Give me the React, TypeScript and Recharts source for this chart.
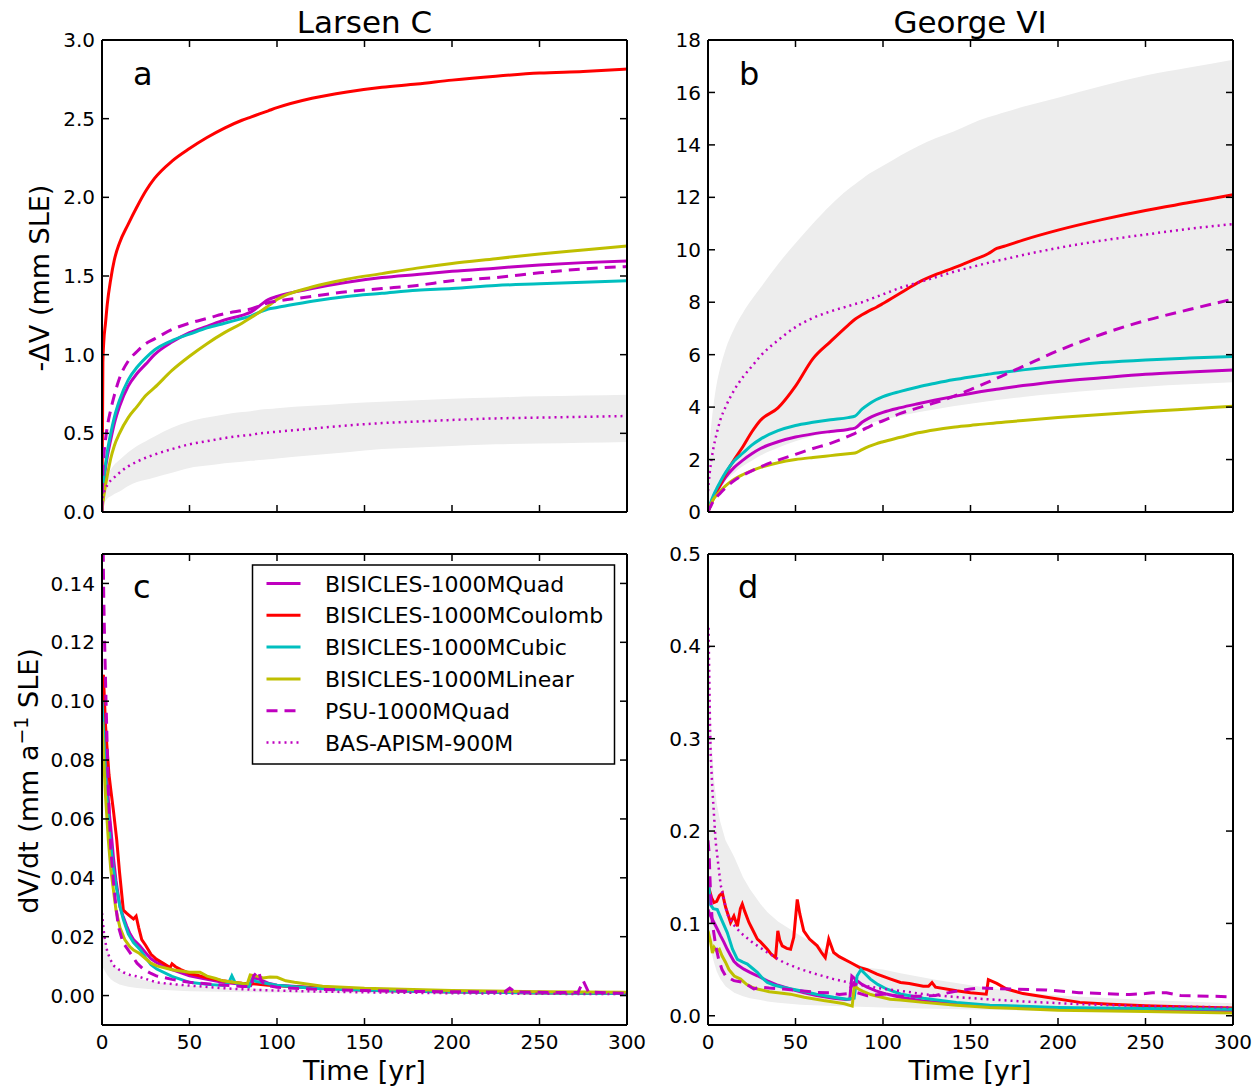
import React from 'react';
import { ComposedChart, Line, Area, XAxis, YAxis } from 'recharts';

// series names, in legend order
const seriesNames = [
  'BISICLES-1000MQuad',
  'BISICLES-1000MCoulomb',
  'BISICLES-1000MCubic',
  'BISICLES-1000MLinear',
  'PSU-1000MQuad',
  'BAS-APISM-900M',
];
const xTicks = [0, 50, 100, 150, 200, 250, 300];

// ---- panel a: Larsen C, -dV (mm SLE)
const tA = [0, 0.5, 1, 2, 3, 5, 7, 10, 15, 20, 25, 30, 40, 50, 60, 70, 80, 85, 90, 95, 100, 120, 140, 160, 180, 200, 225, 250, 275, 300];
const aQuad = [0, 0.1, 0.17, 0.28, 0.35, 0.46, 0.56, 0.67, 0.8, 0.88, 0.94, 1.0, 1.08, 1.14, 1.18, 1.22, 1.25, 1.27, 1.31, 1.35, 1.37, 1.42, 1.46, 1.49, 1.51, 1.53, 1.55, 1.57, 1.585, 1.595];
const aCoulomb = [0, 0.95, 1.08, 1.2, 1.32, 1.48, 1.6, 1.71, 1.83, 1.94, 2.04, 2.12, 2.23, 2.31, 2.38, 2.44, 2.49, 2.51, 2.53, 2.55, 2.57, 2.63, 2.67, 2.7, 2.72, 2.745, 2.77, 2.79, 2.8, 2.815];
const aCubic = [0, 0.12, 0.2, 0.3, 0.38, 0.5, 0.6, 0.71, 0.84, 0.92, 0.98, 1.03, 1.09, 1.13, 1.17, 1.2, 1.23, 1.245, 1.27, 1.29, 1.3, 1.34, 1.37, 1.39, 1.41, 1.42, 1.44, 1.45, 1.46, 1.47];
const aLinear = [0, 0.06, 0.1, 0.17, 0.23, 0.34, 0.42, 0.5, 0.6, 0.67, 0.74, 0.79, 0.9, 0.99, 1.07, 1.14, 1.2, 1.235, 1.27, 1.31, 1.35, 1.43, 1.48, 1.515, 1.55, 1.58, 1.61, 1.64, 1.665, 1.69];
const aPSU = [0, 0.25, 0.35, 0.46, 0.54, 0.65, 0.74, 0.85, 0.96, 1.02, 1.07, 1.1, 1.16, 1.2, 1.23, 1.26, 1.28, 1.29, 1.31, 1.33, 1.34, 1.37, 1.4, 1.42, 1.44, 1.47, 1.49, 1.52, 1.545, 1.56];
const aBAS = [0.05, 0.1, 0.12, 0.15, 0.17, 0.2, 0.22, 0.25, 0.29, 0.32, 0.345, 0.365, 0.4, 0.43, 0.45, 0.47, 0.485, 0.49, 0.5, 0.505, 0.51, 0.53, 0.55, 0.565, 0.575, 0.585, 0.595, 0.6, 0.605, 0.61];
const aBandLo = [0, 0.03, 0.05, 0.07, 0.085, 0.1, 0.115, 0.13, 0.165, 0.19, 0.205, 0.22, 0.25, 0.28, 0.295, 0.31, 0.32, 0.325, 0.33, 0.335, 0.34, 0.36, 0.38, 0.4, 0.41, 0.42, 0.43, 0.435, 0.44, 0.445];
const aBandHi = [0.05, 0.12, 0.16, 0.2, 0.23, 0.27, 0.3, 0.33, 0.38, 0.42, 0.45, 0.48, 0.535, 0.575, 0.6, 0.62, 0.635, 0.64, 0.65, 0.655, 0.66, 0.675, 0.69, 0.7, 0.71, 0.72, 0.728, 0.735, 0.74, 0.745];

// ---- panel b: George VI, -dV (mm SLE)
const tB = [0, 1, 2, 3, 5, 7, 10, 15, 20, 25, 30, 40, 50, 60, 70, 80, 84, 88, 92, 96, 100, 110, 120, 130, 140, 150, 160, 165, 170, 180, 200, 225, 250, 275, 300];
const bQuad = [0, 0.2, 0.38, 0.53, 0.78, 1.0, 1.32, 1.7, 1.98, 2.22, 2.42, 2.68, 2.86, 2.98, 3.07, 3.15, 3.2, 3.42, 3.58, 3.7, 3.8, 3.98, 4.13, 4.27, 4.4, 4.52, 4.63, 4.68, 4.73, 4.82, 4.98, 5.12, 5.25, 5.34, 5.42];
const bCoulomb = [0, 0.18, 0.35, 0.5, 0.8, 1.05, 1.45, 2.0, 2.5, 3.05, 3.5, 3.97, 4.8, 5.85, 6.5, 7.12, 7.35, 7.52, 7.67, 7.8, 7.95, 8.35, 8.75, 9.05, 9.3, 9.57, 9.85, 10.05, 10.15, 10.37, 10.75, 11.15, 11.5, 11.8, 12.1];
const bCubic = [0, 0.25, 0.45, 0.62, 0.9, 1.15, 1.5, 1.95, 2.25, 2.55, 2.78, 3.1, 3.3, 3.42, 3.52, 3.6, 3.66, 3.92, 4.12, 4.28, 4.4, 4.6, 4.77, 4.91, 5.04, 5.15, 5.25, 5.3, 5.34, 5.42, 5.56, 5.7, 5.8, 5.87, 5.93];
const bLinear = [0, 0.2, 0.35, 0.48, 0.65, 0.8, 1.0, 1.25, 1.43, 1.58, 1.7, 1.88, 2.0, 2.08, 2.15, 2.22, 2.25, 2.38, 2.5, 2.6, 2.68, 2.85, 3.02, 3.14, 3.23, 3.3, 3.37, 3.4, 3.43, 3.49, 3.6, 3.72, 3.83, 3.93, 4.03];
const bPSU = [0, 0.15, 0.28, 0.4, 0.58, 0.72, 0.92, 1.2, 1.4, 1.57, 1.72, 1.98, 2.2, 2.42, 2.62, 2.88, 3.0, 3.12, 3.25, 3.38, 3.48, 3.76, 3.97, 4.17, 4.4, 4.67, 4.95, 5.1, 5.25, 5.55, 6.15, 6.78, 7.3, 7.72, 8.12];
const bBAS = [0.8, 1.5, 2.0, 2.4, 3.0, 3.5, 4.0, 4.65, 5.15, 5.55, 5.95, 6.55, 7.05, 7.4, 7.65, 7.85, 7.93, 8.0, 8.1, 8.2, 8.3, 8.55, 8.75, 8.95, 9.15, 9.33, 9.5, 9.58, 9.65, 9.8, 10.07, 10.35, 10.58, 10.8, 10.98];
const bBandLo = [0, 0.3, 0.5, 0.65, 0.85, 1.0, 1.2, 1.5, 1.75, 1.95, 2.15, 2.45, 2.7, 2.9, 3.05, 3.2, 3.25, 3.3, 3.37, 3.45, 3.52, 3.66, 3.8, 3.92, 4.03, 4.13, 4.22, 4.27, 4.31, 4.39, 4.52, 4.66, 4.78, 4.87, 4.95];
const bBandHi = [1.0, 2.6, 3.4, 4.0, 4.9, 5.5, 6.2, 7.0, 7.6, 8.1, 8.55, 9.45, 10.25, 11.0, 11.7, 12.3, 12.5, 12.7, 12.9, 13.05, 13.2, 13.6, 13.95, 14.25, 14.5, 14.8, 15.05, 15.15, 15.25, 15.45, 15.8, 16.25, 16.65, 16.95, 17.25];

// ---- panel c: Larsen C, dV/dt  ([t, value])
const cQuad = [[0, 0.1], [1, 0.092], [2, 0.082], [2.7, 0.075], [4, 0.063], [5, 0.057], [6.5, 0.047], [8, 0.039], [10.3, 0.03], [12, 0.027], [14.1, 0.0236], [16, 0.021], [18, 0.019], [21.7, 0.0168], [25, 0.0145], [28, 0.0125], [31.3, 0.0112], [40, 0.0088], [50, 0.0067], [60, 0.0055], [69, 0.0045], [80, 0.0038], [85, 0.0034], [87, 0.006], [90, 0.0055], [95, 0.0042], [100, 0.0035], [120, 0.0027], [150, 0.0021], [200, 0.0015], [250, 0.0011], [300, 0.0009]];
const cCoulomb = [[0, 0.105], [0.8, 0.109], [2, 0.092], [3, 0.083], [4, 0.075], [5, 0.07], [6.5, 0.063], [8.4, 0.053], [10, 0.042], [12.2, 0.029], [14, 0.028], [16, 0.027], [18, 0.026], [19.5, 0.027], [21, 0.023], [22.7, 0.019], [25, 0.017], [28, 0.014], [31, 0.0124], [35, 0.011], [38.9, 0.0095], [40, 0.0108], [42, 0.0098], [45, 0.0088], [50, 0.0075], [55, 0.0068], [60, 0.006], [69, 0.005], [75, 0.0045], [80, 0.0042], [88, 0.0039], [95, 0.0035], [110, 0.003], [126, 0.0025], [150, 0.0018], [200, 0.0012], [250, 0.0009], [300, 0.0007]];
const cCubic = [[0, 0.1], [1, 0.088], [2, 0.075], [3, 0.065], [4.6, 0.053], [6.5, 0.043], [8.4, 0.036], [10, 0.031], [12.2, 0.0258], [15, 0.021], [18, 0.018], [21.7, 0.0157], [25, 0.0128], [28, 0.0105], [31.3, 0.009], [40, 0.0065], [50, 0.0045], [60, 0.0038], [70, 0.0034], [72.5, 0.0045], [74.2, 0.0067], [76, 0.0045], [78, 0.0036], [84, 0.003], [85.6, 0.0056], [88, 0.0048], [95, 0.004], [100, 0.0035], [120, 0.0025], [150, 0.0018], [200, 0.0012], [250, 0.0009], [300, 0.0007]];
const cLinear = [[0, 0.093], [1, 0.08], [2, 0.068], [3.6, 0.053], [5, 0.043], [6.5, 0.036], [8, 0.029], [10.3, 0.023], [13, 0.019], [16, 0.0165], [18, 0.0155], [21, 0.0145], [25, 0.0125], [28, 0.011], [31.3, 0.0101], [40, 0.0088], [50, 0.0079], [53, 0.0079], [56, 0.0079], [60, 0.0066], [65, 0.0058], [69, 0.005], [75, 0.0045], [83, 0.0039], [84.7, 0.007], [88.5, 0.0066], [92, 0.006], [96, 0.0063], [100, 0.0062], [105, 0.005], [110, 0.0045], [126, 0.0032], [150, 0.0025], [200, 0.0017], [250, 0.0013], [300, 0.0011]];
const cPSU = [[0, 0.2], [0.5, 0.16], [1, 0.135], [1.5, 0.12], [2.3, 0.1], [3.6, 0.07], [5, 0.05], [6.5, 0.039], [8, 0.03], [9.3, 0.0236], [12, 0.018], [16, 0.0146], [20, 0.011], [23.6, 0.009], [28, 0.0075], [31, 0.0067], [40, 0.0055], [50, 0.0045], [60, 0.004], [70, 0.0035], [80, 0.0031], [85, 0.003], [86.6, 0.0067], [89.4, 0.0084], [91, 0.005], [93, 0.0036], [100, 0.0028], [120, 0.0022], [150, 0.0017], [180, 0.0014], [200, 0.0013], [230, 0.0012], [233, 0.0025], [236, 0.0012], [260, 0.001], [272, 0.001], [275, 0.005], [278, 0.0012], [290, 0.0009], [300, 0.0008]];
const cBAS = [[0, 0.028], [1, 0.022], [1.7, 0.019], [3, 0.015], [4.6, 0.0124], [7, 0.01], [10, 0.0087], [12.2, 0.0079], [16, 0.007], [21.7, 0.0063], [31, 0.0045], [40, 0.0039], [50, 0.0034], [69, 0.0025], [88, 0.0019], [120, 0.0014], [150, 0.0011], [200, 0.0008], [250, 0.0006], [300, 0.0005]];
const cBand = [[0, 0.01, 0.03], [1, 0.009, 0.024], [2, 0.008, 0.019], [3, 0.007, 0.016], [5, 0.0055, 0.012], [7, 0.0047, 0.01], [10, 0.0038, 0.0085], [15, 0.003, 0.007], [20, 0.0026, 0.0058], [30, 0.0021, 0.0046], [50, 0.0015, 0.0034], [75, 0.0012, 0.0026], [100, 0.001, 0.0021], [150, 0.0008, 0.0016], [200, 0.0006, 0.0013], [300, 0.0004, 0.001]];

// ---- panel d: George VI, dV/dt
const dQuad = [[0, 0.115], [1, 0.11], [3.4, 0.101], [5, 0.095], [7.2, 0.0865], [9, 0.08], [11, 0.072], [13, 0.065], [14.8, 0.059], [17, 0.055], [20.5, 0.0505], [24, 0.047], [28.2, 0.0433], [33.9, 0.0379], [40, 0.033], [47, 0.029], [55, 0.025], [62, 0.022], [71.8, 0.019], [79, 0.0175], [81, 0.018], [82.2, 0.043], [84, 0.04], [85.2, 0.038], [88, 0.034], [90.9, 0.031], [96, 0.027], [102, 0.0235], [110, 0.02], [123, 0.016], [142, 0.0128], [161, 0.0108], [200, 0.008], [250, 0.0062], [300, 0.005]];
const dCoulomb = [[0, 0.142], [1, 0.135], [2, 0.128], [3.4, 0.1226], [5, 0.124], [6.5, 0.13], [8.2, 0.133], [10, 0.118], [12.9, 0.101], [14.8, 0.108], [16.8, 0.097], [18.5, 0.116], [19.6, 0.121], [21, 0.113], [23.4, 0.101], [25, 0.095], [28.2, 0.083], [30, 0.08], [33.9, 0.072], [36, 0.067], [38.6, 0.063], [39.9, 0.092], [41, 0.082], [42.4, 0.0757], [45, 0.073], [47.2, 0.072], [49, 0.085], [51, 0.126], [52.5, 0.11], [54.7, 0.092], [58, 0.083], [62.4, 0.0757], [65, 0.068], [67, 0.063], [69, 0.083], [71.8, 0.0685], [75, 0.064], [81.4, 0.0577], [87, 0.052], [91, 0.05], [96.6, 0.045], [104, 0.04], [110, 0.036], [115, 0.035], [123, 0.032], [126, 0.032], [128, 0.036], [130, 0.031], [142, 0.027], [150, 0.025], [159, 0.0234], [160.2, 0.039], [165, 0.035], [170.7, 0.029], [180, 0.024], [193.5, 0.02], [212.5, 0.0145], [230, 0.0125], [250, 0.0108], [275, 0.0095], [300, 0.0083]];
const dCubic = [[0, 0.137], [0.5, 0.14], [1.5, 0.12], [3, 0.116], [5.3, 0.115], [8, 0.103], [11, 0.09], [14, 0.072], [16.8, 0.061], [20, 0.058], [22.5, 0.056], [25, 0.052], [28.2, 0.047], [31, 0.041], [33.9, 0.036], [38, 0.033], [43.3, 0.0307], [52.8, 0.027], [62, 0.0234], [71.8, 0.02], [79.4, 0.018], [83.5, 0.019], [85.2, 0.043], [87.4, 0.05], [90, 0.045], [92.8, 0.0397], [97, 0.034], [102, 0.029], [110, 0.0236], [123, 0.019], [142, 0.0145], [161, 0.0115], [200, 0.009], [250, 0.0078], [300, 0.007]];
const dLinear = [[0, 0.092], [1.5, 0.08], [2.5, 0.068], [3.5, 0.074], [5, 0.07], [6.5, 0.072], [8, 0.065], [10, 0.058], [12, 0.05], [15, 0.043], [18.6, 0.0397], [22, 0.034], [25, 0.031], [28.2, 0.029], [35, 0.026], [40, 0.025], [47, 0.0234], [55, 0.02], [66, 0.0165], [71.8, 0.015], [78, 0.013], [82.4, 0.0105], [83.6, 0.0324], [86, 0.029], [88.6, 0.0265], [93, 0.023], [98, 0.0205], [104, 0.018], [110, 0.017], [123, 0.0145], [142, 0.0115], [161, 0.009], [200, 0.006], [250, 0.0045], [300, 0.003]];
const dPSU = [[0, 0.19], [0.6, 0.177], [1.5, 0.13], [2.5, 0.1], [4.4, 0.076], [6, 0.062], [8, 0.05], [10.1, 0.043], [14.8, 0.038], [20.5, 0.036], [26.2, 0.029], [30, 0.031], [35, 0.03], [43, 0.029], [52.8, 0.027], [62, 0.0253], [69.6, 0.025], [75, 0.023], [80, 0.024], [82, 0.032], [83.5, 0.036], [85.2, 0.025], [91, 0.0216], [102, 0.0235], [110, 0.021], [120, 0.021], [130, 0.022], [140, 0.026], [150, 0.029], [155.4, 0.03], [174, 0.029], [193, 0.028], [212, 0.025], [241, 0.023], [250, 0.024], [254, 0.025], [262, 0.025], [270, 0.022], [300, 0.0205]];
const dBAS = [[0.3, 0.42], [0.7, 0.37], [1.1, 0.32], [1.5, 0.285], [2.5, 0.245], [4.4, 0.188], [7.2, 0.142], [11, 0.11], [14, 0.1], [18.6, 0.09], [25, 0.08], [33.9, 0.0685], [43, 0.058], [52.8, 0.0505], [62, 0.045], [71.8, 0.0397], [85.2, 0.034], [97, 0.03], [110, 0.027], [123, 0.0234], [140, 0.0205], [159, 0.018], [180, 0.0155], [212, 0.0126], [250, 0.0105], [300, 0.009]];
const dBand = [[0, 0.1, 0.5], [0.5, 0.09, 0.42], [1, 0.08, 0.37], [2, 0.068, 0.3], [3.4, 0.058, 0.256], [5, 0.048, 0.23], [7, 0.04, 0.21], [10, 0.032, 0.19], [15, 0.025, 0.172], [20, 0.021, 0.15], [24, 0.019, 0.137], [30, 0.017, 0.121], [34, 0.0155, 0.112], [40, 0.014, 0.102], [53, 0.012, 0.0865], [60, 0.0115, 0.079], [72, 0.0105, 0.066], [80, 0.01, 0.059], [91, 0.0095, 0.052], [100, 0.009, 0.05], [110, 0.0085, 0.046], [130, 0.0075, 0.039], [150, 0.0068, 0.033], [175, 0.006, 0.026], [200, 0.0052, 0.022], [250, 0.004, 0.017], [300, 0.003, 0.0135]];

// line styles, same order as seriesNames
const styles = [
  { color: '#bf00bf', dash: undefined, width: 3 },
  { color: '#ff0000', dash: undefined, width: 3 },
  { color: '#00bfbf', dash: undefined, width: 3 },
  { color: '#bfbf00', dash: undefined, width: 3 },
  { color: '#bf00bf', dash: '11 7', width: 3 },
  { color: '#bf00bf', dash: '2 4', width: 2.5 },
];

const fromGrid = (t: number[], v: number[]) => t.map((x, i) => ({ t: x, v: v[i] }));
const fromPairs = (p: number[][]) => p.map(([t, v]) => ({ t, v }));
const bandGrid = (t: number[], lo: number[], hi: number[]) => t.map((x, i) => ({ t: x, band: [lo[i], hi[i]] }));
const bandTriples = (p: number[][]) => p.map(([t, lo, hi]) => ({ t, band: [lo, hi] }));

const PLOT_W = 525;
const Y_W = 100;
const M_TOP = 20;
const M_RIGHT = 30;
const axisLine = { stroke: '#000', strokeWidth: 2 };
const tickLine = { stroke: '#000', strokeWidth: 1.5 };
const tickStyle = { fill: '#000', fontSize: 20 };
const blank = () => '';

// plotLeft / plotTop are page coordinates of the plot box
function Panel({ plotLeft, plotTop, plotH, yDomain, yTicks, yFmt, showX, band, lines, curve }: any) {
  return (
    <div style={{ position: 'absolute', left: plotLeft - Y_W, top: plotTop - 1 - M_TOP }}>
      <ComposedChart width={Y_W + PLOT_W + 1 + M_RIGHT} height={M_TOP + 1 + plotH + 45}
        margin={{ top: M_TOP, right: M_RIGHT, bottom: 0, left: 0 }}>
        <XAxis xAxisId="b" type="number" dataKey="t" domain={[0, 300]} ticks={xTicks} allowDataOverflow interval={0}
          orientation="bottom" height={45} tickSize={-7} tickMargin={17} tick={tickStyle}
          tickFormatter={showX ? (v: number) => String(v) : blank} axisLine={axisLine} tickLine={tickLine} />
        <XAxis xAxisId="top" type="number" dataKey="t" domain={[0, 300]} ticks={xTicks} allowDataOverflow interval={0}
          orientation="top" height={1} tickSize={-7} tick={tickStyle} tickFormatter={blank}
          axisLine={axisLine} tickLine={tickLine} />
        <YAxis yAxisId="l" type="number" domain={yDomain} ticks={yTicks} allowDataOverflow interval={0}
          width={Y_W} tickSize={-7} tickMargin={14} tick={tickStyle} tickFormatter={yFmt}
          axisLine={axisLine} tickLine={tickLine} />
        <YAxis yAxisId="r" type="number" orientation="right" domain={yDomain} ticks={yTicks} allowDataOverflow interval={0}
          width={1} tickSize={-7} tick={tickStyle} tickFormatter={blank}
          axisLine={axisLine} tickLine={tickLine} />
        <Area xAxisId="b" yAxisId="l" data={band} dataKey="band" type={curve} stroke="none"
          fill="#ededed" fillOpacity={1} isAnimationActive={false} />
        {lines.map((d: any, i: number) => (
          <Line key={seriesNames[i]} name={seriesNames[i]} xAxisId="b" yAxisId="l" data={d} dataKey="v"
            type={curve} stroke={styles[i].color} strokeWidth={styles[i].width}
            strokeDasharray={styles[i].dash} dot={false} activeDot={false} isAnimationActive={false} />
        ))}
      </ComposedChart>
    </div>
  );
}

function LegendBox() {
  const x = 252.5, y = 565, rowH = 31.8;
  return (
    <svg width={1260} height={1086} style={{ position: 'absolute', left: 0, top: 0, pointerEvents: 'none' }}>
      <rect x={x} y={y} width={362} height={199} fill="#fff" stroke="#000" strokeWidth={1.5} />
      {seriesNames.map((n, i) => {
        const cy = y + 18.5 + i * rowH;
        return (
          <g key={n}>
            <line x1={266.5} x2={300.5} y1={cy} y2={cy} stroke={styles[i].color}
              strokeWidth={styles[i].width} strokeDasharray={styles[i].dash} />
            <text x={325} y={cy + 8} fontSize={22} fill="#000">{n}</text>
          </g>
        );
      })}
    </svg>
  );
}

export default function App() {
  const xl = 102, xr = 707.5;
  return (
    <div style={{ position: 'absolute', left: 0, top: 0, width: 1260, height: 1086, background: '#fff', fontFamily: '"DejaVu Sans", sans-serif' }}>
      <Panel plotLeft={xl} plotTop={40} plotH={472} yDomain={[0, 3]} yTicks={[0, 0.5, 1, 1.5, 2, 2.5, 3]}
        yFmt={(v: number) => v.toFixed(1)} showX={false} curve="monotone"
        band={bandGrid(tA, aBandLo, aBandHi)}
        lines={[aQuad, aCoulomb, aCubic, aLinear, aPSU, aBAS].map((v) => fromGrid(tA, v))} />
      <Panel plotLeft={xr} plotTop={40} plotH={472} yDomain={[0, 18]} yTicks={[0, 2, 4, 6, 8, 10, 12, 14, 16, 18]}
        yFmt={(v: number) => String(v)} showX={false} curve="monotone"
        band={bandGrid(tB, bBandLo, bBandHi)}
        lines={[bQuad, bCoulomb, bCubic, bLinear, bPSU, bBAS].map((v) => fromGrid(tB, v))} />
      <Panel plotLeft={xl} plotTop={554} plotH={471} yDomain={[-0.01, 0.15]} yTicks={[0, 0.02, 0.04, 0.06, 0.08, 0.1, 0.12, 0.14]}
        yFmt={(v: number) => v.toFixed(2)} showX={true} curve="linear"
        band={bandTriples(cBand)}
        lines={[cQuad, cCoulomb, cCubic, cLinear, cPSU, cBAS].map(fromPairs)} />
      <Panel plotLeft={xr} plotTop={554} plotH={471} yDomain={[-0.01, 0.5]} yTicks={[0, 0.1, 0.2, 0.3, 0.4, 0.5]}
        yFmt={(v: number) => v.toFixed(1)} showX={true} curve="linear"
        band={bandTriples(dBand)}
        lines={[dQuad, dCoulomb, dCubic, dLinear, dPSU, dBAS].map(fromPairs)} />
      <LegendBox />
      <svg width={1260} height={1086} style={{ position: 'absolute', left: 0, top: 0, pointerEvents: 'none' }}>
        <text x={364.5} y={33} textAnchor="middle" fontSize={31}>Larsen C</text>
        <text x={970} y={33} textAnchor="middle" fontSize={31}>George VI</text>
        <text x={133} y={85} fontSize={32}>a</text>
        <text x={739} y={85} fontSize={32}>b</text>
        <text x={133} y={598} fontSize={32}>c</text>
        <text x={738} y={598} fontSize={32}>d</text>
        <text transform="translate(49,278) rotate(-90)" textAnchor="middle" fontSize={27}>-ΔV (mm SLE)</text>
        <text transform="translate(38,781) rotate(-90)" textAnchor="middle" fontSize={27}>
          dV/dt (mm a<tspan dy={-10} fontSize={19}>−1</tspan><tspan dy={10}> SLE)</tspan>
        </text>
        <text x={364.5} y={1080} textAnchor="middle" fontSize={27}>Time [yr]</text>
        <text x={970} y={1080} textAnchor="middle" fontSize={27}>Time [yr]</text>
      </svg>
    </div>
  );
}
